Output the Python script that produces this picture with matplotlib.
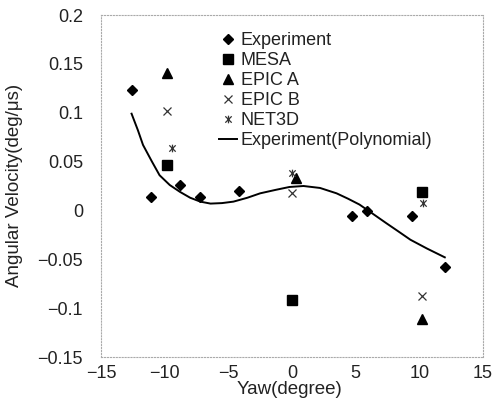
import matplotlib
matplotlib.use("Agg")
import matplotlib.pyplot as plt
from matplotlib.path import Path

plt.rcParams['font.family'] = ['Liberation Sans', 'DejaVu Sans']

# experiment points
exp_x = [-12.6, -11.1, -8.8, -7.2, -4.2, 4.7, 5.9, 9.4, 12.0]
exp_y = [0.123, 0.014, 0.026, 0.014, 0.020, -0.006, -0.001, -0.006, -0.058]

# model results
mesa_x = [-9.8, 0.0, 10.2]
mesa_y = [0.047, -0.092, 0.019]
epica_x = [-9.8, 0.3, 10.2]
epica_y = [0.141, 0.033, -0.111]
epicb_x = [-9.8, 0.0, 10.2]
epicb_y = [0.102, 0.018, -0.088]
net3d_x = [-9.4, 0.0, 10.3]
net3d_y = [0.064, 0.038, 0.008]

# polynomial trend line
poly_x = [-12.6, -12.1, -11.7, -11.0, -10.4, -9.6, -8.8, -8.0, -7.2, -6.4,
          -5.5, -4.6, -3.5, -2.5, -1.3, -0.2, 0.9, 2.2, 3.5, 4.4,
          5.3, 6.3, 7.4, 8.3, 9.3, 10.6, 12.0]
poly_y = [0.099, 0.082, 0.067, 0.050, 0.036, 0.026, 0.019, 0.013, 0.009, 0.007,
          0.0075, 0.009, 0.013, 0.0175, 0.021, 0.024, 0.025, 0.023, 0.0175, 0.012,
          0.006, -0.003, -0.013, -0.021, -0.030, -0.039, -0.048]

xticks = [-15, -10, -5, 0, 5, 10, 15]
yticks = [-0.15, -0.1, -0.05, 0, 0.05, 0.1, 0.15, 0.2]
ytick_labels = ['\u22120.15', '\u22120.1', '\u22120.05', '0', '0.05', '0.1', '0.15', '0.2']

# x with a vertical bar, like the Excel star marker
star = Path([(-1, -1), (1, 1), (-1, 1), (1, -1), (0, -1.2), (0, 1.2)],
            [Path.MOVETO, Path.LINETO, Path.MOVETO, Path.LINETO, Path.MOVETO, Path.LINETO])

W, H = 494, 398
fig = plt.figure(figsize=(W / 100, H / 100), dpi=100)
ax = fig.add_axes([101 / W, 41 / H, 382 / W, 342 / H])

ax.plot(exp_x, exp_y, 'D', color='black', ms=4.8, ls='none', label='Experiment')
ax.plot(mesa_x, mesa_y, 's', color='black', ms=6.5, ls='none', label='MESA')
ax.plot(epica_x, epica_y, '^', color='black', ms=6.5, ls='none', label='EPIC A')
ax.plot(epicb_x, epicb_y, 'x', color='#333333', ms=5.5, mew=0.9, ls='none', label='EPIC B')
ax.plot(net3d_x, net3d_y, marker=star, color='#333333', ms=5.5, mew=0.9, ls='none', label='NET3D')
ax.plot(poly_x, poly_y, '-', color='black', lw=1.4, label='Experiment(Polynomial)')

ax.set_xlim(-15, 15)
ax.set_ylim(-0.15, 0.2)
ax.set_xticks(xticks)
ax.set_yticks(yticks)
ax.set_yticklabels(ytick_labels)
ax.tick_params(length=0, labelsize=13, colors='#222222')
ax.tick_params(axis='x', pad=6)
ax.tick_params(axis='y', pad=13)

for sp in ax.spines.values():
    sp.set_linestyle(':')
    sp.set_color('#aaaaaa')
    sp.set_linewidth(0.8)

ax.set_xlabel('Yaw(degree)', fontsize=13.5, color='#222222')
ax.xaxis.label.set_va('center')
ax.xaxis.set_label_coords((289 - 101) / 382, -32 / 342)
ax.set_ylabel('Angular Velocity(deg/\u03bcs)', fontsize=13.5, color='#222222')
ax.yaxis.label.set_va('center')
ax.yaxis.set_label_coords((15 - 101) / 382, (357 - 185) / 342)

ax.legend(loc='upper left', bbox_to_anchor=(219 / W, 1 - 32 / H),
          bbox_transform=fig.transFigure, frameon=False, fontsize=13,
          labelspacing=0.17, handlelength=1.0, handletextpad=0.2,
          borderpad=0, borderaxespad=0, labelcolor='#222222')

fig.savefig('out.png', dpi=100)
